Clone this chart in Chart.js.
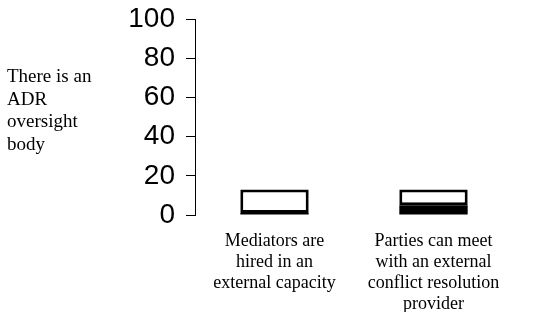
<!DOCTYPE html>
<html>
<head>
<meta charset="utf-8">
<script src="https://cdn.jsdelivr.net/npm/chart.js@4"></script>
<style>
  html, body { margin: 0; padding: 0; background: #fff; }
  #wrap { position: relative; width: 534px; height: 312px; }
</style>
</head>
<body>
<div id="wrap"><canvas id="chart" width="534" height="312"></canvas></div>
<script>
const categories = [
  ['Mediators are', 'hired in an', 'external capacity'],
  ['Parties can meet', 'with an external', 'conflict resolution', 'provider']
];
const solidPart = [1, 5];
const openPart = [12, 8];
const yTicks = [0, 20, 40, 60, 80, 100];
const yTitle = ['There is an', 'ADR', 'oversight', 'body'];

const SERIF = "'Liberation Serif', 'Times New Roman', serif";
const SANS = "'Liberation Sans', Arial, sans-serif";

// horizontal y-axis title at the left
const sideTitle = {
  id: 'sideTitle',
  afterDraw(chart) {
    const ctx = chart.ctx;
    ctx.save();
    ctx.font = '19px ' + SERIF;
    ctx.fillStyle = '#000';
    ctx.textAlign = 'left';
    ctx.textBaseline = 'alphabetic';
    yTitle.forEach((line, i) => ctx.fillText(line, 7, 82 + i * 22.5));
    ctx.restore();
  }
};

new Chart(document.getElementById('chart').getContext('2d'), {
  type: 'bar',
  data: {
    labels: categories,
    datasets: [
      {
        data: solidPart,
        backgroundColor: '#000',
        borderWidth: 0,
        barPercentage: 0.43,
        categoryPercentage: 1
      },
      {
        data: openPart,
        backgroundColor: '#fff',
        borderColor: '#000',
        borderWidth: 3,
        borderSkipped: false,
        barPercentage: 0.43,
        categoryPercentage: 1
      }
    ]
  },
  options: {
    responsive: false,
    animation: false,
    layout: { padding: { top: 19, right: 21, left: 0, bottom: 0 } },
    plugins: { legend: { display: false }, tooltip: { enabled: false } },
    scales: {
      x: {
        stacked: true,
        grid: { display: false, drawTicks: false },
        border: { display: false },
        ticks: {
          color: '#000',
          padding: 16,
          maxRotation: 0,
          autoSkip: false,
          font: { family: SERIF, size: 18, lineHeight: 1.17 }
        },
        afterFit(scale) { scale.height = 97; }
      },
      y: {
        stacked: true,
        min: 0,
        max: 100,
        afterBuildTicks(scale) { scale.ticks = yTicks.map(v => ({ value: v })); },
        grid: { drawOnChartArea: false, drawTicks: true, tickLength: 9, color: '#000' },
        border: { display: true, color: '#000', width: 1 },
        ticks: {
          color: '#000',
          padding: 11,
          font: { family: SANS, size: 28 }
        },
        afterFit(scale) {
          scale.width = 195;
          scale.paddingTop = 0;
          scale.paddingBottom = 0;
        }
      }
    }
  },
  plugins: [sideTitle]
});
</script>
</body>
</html>
